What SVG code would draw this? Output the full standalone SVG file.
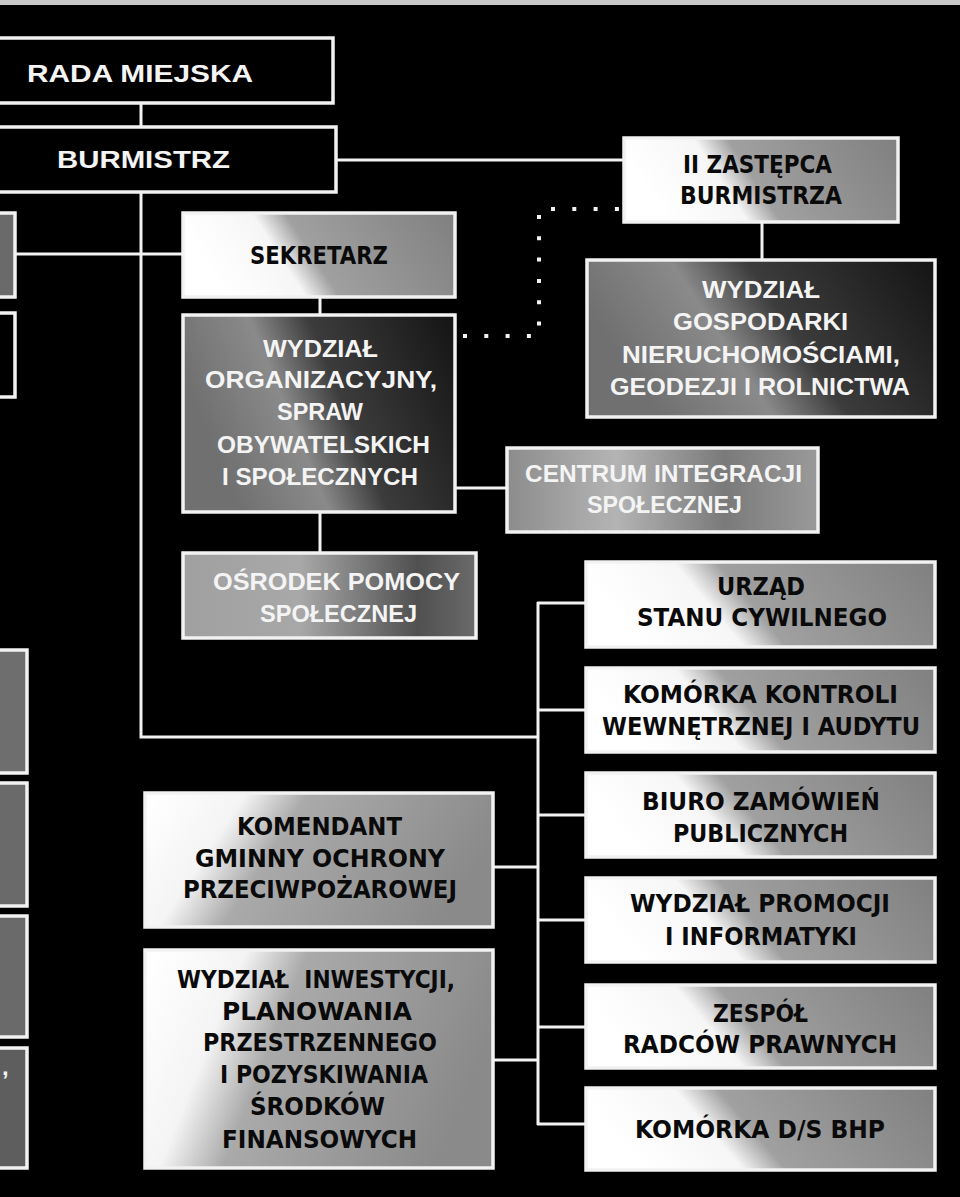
<svg xmlns="http://www.w3.org/2000/svg" width="960" height="1197" viewBox="0 0 960 1197">
<defs>
<style>
.box{stroke:#f2f2f2;stroke-width:3.5}
.ln{stroke:#f2f2f2;stroke-width:3;fill:none}
.dot{stroke:#f2f2f2;stroke-width:4;fill:none;stroke-dasharray:4 17.3}
.tw{font-family:"Liberation Sans",Arial,sans-serif;font-weight:700;fill:#f4f4f4;font-size:24px}
.tb{font-family:"DejaVu Sans","Liberation Sans",sans-serif;font-weight:700;fill:#0a0a0a;font-size:24px}
</style>
<linearGradient id="gLight" x1="0" y1="0.2" x2="1" y2="0" gradientUnits="objectBoundingBox">
<stop offset="0" stop-color="#ffffff"/>
<stop offset="0.28" stop-color="#f6f6f6"/>
<stop offset="0.4" stop-color="#a0a0a0"/>
<stop offset="1" stop-color="#808080"/>
</linearGradient>
<linearGradient id="gLightDiag" x1="0" y1="0.1" x2="1" y2="0.35" gradientUnits="objectBoundingBox">
<stop offset="0" stop-color="#ffffff"/>
<stop offset="0.25" stop-color="#f4f4f4"/>
<stop offset="0.42" stop-color="#aaaaaa"/>
<stop offset="1" stop-color="#8a8a8a"/>
</linearGradient>
<linearGradient id="gDark" x1="0" y1="0.3" x2="1" y2="0" gradientUnits="objectBoundingBox">
<stop offset="0" stop-color="#707070"/>
<stop offset="0.3" stop-color="#8a8a8a"/>
<stop offset="0.5" stop-color="#3c3c3c"/>
<stop offset="1" stop-color="#141414"/>
</linearGradient>
<linearGradient id="gMid" x1="0" y1="0" x2="1" y2="0" gradientUnits="objectBoundingBox">
<stop offset="0" stop-color="#8c8c8c"/>
<stop offset="0.35" stop-color="#b4b4b4"/>
<stop offset="0.7" stop-color="#7a7a7a"/>
<stop offset="1" stop-color="#9a9a9a"/>
</linearGradient>
<linearGradient id="gOsr" x1="0" y1="0" x2="1" y2="0" gradientUnits="objectBoundingBox">
<stop offset="0" stop-color="#a0a0a0"/>
<stop offset="0.4" stop-color="#a8a8a8"/>
<stop offset="0.8" stop-color="#505050"/>
<stop offset="1" stop-color="#6a6a6a"/>
</linearGradient>
</defs>
<rect x="0" y="0" width="960" height="1197" fill="#000"/>
<rect x="0" y="0" width="960" height="5" fill="#c8c8c8"/>

<g id="connectors">
<line class="ln" x1="141" y1="103" x2="141" y2="127"/>
<line class="ln" x1="336" y1="160" x2="624" y2="160"/>
<path class="ln" d="M141 192 V737 H538"/>
<line class="ln" x1="15" y1="254" x2="183" y2="254"/>
<line class="ln" x1="320" y1="297" x2="320" y2="315"/>
<line class="ln" x1="455" y1="488" x2="507" y2="488"/>
<line class="ln" x1="320" y1="512" x2="320" y2="553"/>
<line class="ln" x1="762" y1="222" x2="762" y2="260"/>
<line class="ln" x1="538" y1="602" x2="538" y2="1125"/>
<line class="ln" x1="537" y1="603" x2="586" y2="603"/>
<line class="ln" x1="537" y1="710" x2="586" y2="710"/>
<line class="ln" x1="537" y1="815" x2="586" y2="815"/>
<line class="ln" x1="537" y1="920" x2="586" y2="920"/>
<line class="ln" x1="537" y1="1027" x2="586" y2="1027"/>
<line class="ln" x1="537" y1="1124" x2="586" y2="1124"/>
<line class="ln" x1="493" y1="867" x2="538" y2="867"/>
<line class="ln" x1="493" y1="1060" x2="538" y2="1060"/>
<line class="dot" x1="463" y1="336" x2="532" y2="336"/>
<line class="dot" x1="539" y1="215" x2="539" y2="328"/>
<line class="dot" x1="551" y1="209" x2="622" y2="209"/>
</g>

<g id="left-box-1"><rect class="box" x="-10" y="213" width="25" height="84" fill="#6a6a6a"/></g>
<g id="left-box-2"><rect class="box" x="-10" y="313" width="25" height="84" fill="#000"/></g>
<g id="left-box-3"><rect class="box" x="-10" y="650" width="37" height="123" fill="#6e6e6e"/></g>
<g id="left-box-4"><rect class="box" x="-10" y="783" width="37" height="123" fill="#6a6a6a"/></g>
<g id="left-box-5"><rect class="box" x="-10" y="916" width="37" height="121" fill="#6a6a6a"/></g>
<g id="left-box-6"><rect class="box" x="-10" y="1048" width="37" height="120" fill="#5e5e5e"/><text class="tw" x="2" y="1075">,</text></g>

<g id="rada-miejska">
<rect class="box" x="-10" y="38" width="343" height="65" fill="#000"/>
<text class="tw" x="27" y="82" font-size="30" textLength="226" lengthAdjust="spacingAndGlyphs">RADA MIEJSKA</text>
</g>
<g id="burmistrz">
<rect class="box" x="-10" y="127" width="346" height="65" fill="#000"/>
<text class="tw" x="57" y="168" font-size="30" textLength="173" lengthAdjust="spacingAndGlyphs">BURMISTRZ</text>
</g>
<g id="sekretarz">
<rect class="box" x="183" y="213" width="272" height="84" fill="url(#gLight)"/>
<text class="tb" x="250" y="264" textLength="138" lengthAdjust="spacingAndGlyphs">SEKRETARZ</text>
</g>
<g id="ii-zastepca">
<rect class="box" x="624" y="138" width="274" height="84" fill="url(#gLight)"/>
<text class="tb" x="683" y="173" textLength="149" lengthAdjust="spacingAndGlyphs">II ZASTĘPCA</text>
<text class="tb" x="680" y="204" textLength="162" lengthAdjust="spacingAndGlyphs">BURMISTRZA</text>
</g>
<g id="wydzial-gospodarki">
<rect class="box" x="587" y="260" width="348" height="157" fill="url(#gDark)"/>
<text class="tw" x="702" y="298" textLength="118" lengthAdjust="spacingAndGlyphs">WYDZIAŁ</text>
<text class="tw" x="673" y="330" textLength="175" lengthAdjust="spacingAndGlyphs">GOSPODARKI</text>
<text class="tw" x="622" y="363" textLength="278" lengthAdjust="spacingAndGlyphs">NIERUCHOMOŚCIAMI,</text>
<text class="tw" x="610" y="395" textLength="300" lengthAdjust="spacingAndGlyphs">GEODEZJI I ROLNICTWA</text>
</g>
<g id="wydzial-organizacyjny">
<rect class="box" x="183" y="315" width="272" height="197" fill="url(#gDark)"/>
<text class="tw" x="263" y="357" textLength="115" lengthAdjust="spacingAndGlyphs">WYDZIAŁ</text>
<text class="tw" x="205" y="388" textLength="232" lengthAdjust="spacingAndGlyphs">ORGANIZACYJNY,</text>
<text class="tw" x="277" y="420" textLength="86" lengthAdjust="spacingAndGlyphs">SPRAW</text>
<text class="tw" x="217" y="453" textLength="213" lengthAdjust="spacingAndGlyphs">OBYWATELSKICH</text>
<text class="tw" x="222" y="485" textLength="196" lengthAdjust="spacingAndGlyphs">I SPOŁECZNYCH</text>
</g>
<g id="centrum-integracji">
<rect class="box" x="507" y="448" width="311" height="84" fill="url(#gMid)"/>
<text class="tw" x="525" y="482" textLength="277" lengthAdjust="spacingAndGlyphs">CENTRUM INTEGRACJI</text>
<text class="tw" x="587" y="513" textLength="155" lengthAdjust="spacingAndGlyphs">SPOŁECZNEJ</text>
</g>
<g id="osrodek-pomocy">
<rect class="box" x="183" y="553" width="293" height="85" fill="url(#gOsr)"/>
<text class="tw" x="213" y="590" textLength="247" lengthAdjust="spacingAndGlyphs">OŚRODEK POMOCY</text>
<text class="tw" x="260" y="622" textLength="157" lengthAdjust="spacingAndGlyphs">SPOŁECZNEJ</text>
</g>
<g id="urzad-stanu-cywilnego">
<rect class="box" x="586" y="562" width="349" height="85" fill="url(#gLight)"/>
<text class="tb" x="717" y="595" textLength="88" lengthAdjust="spacingAndGlyphs">URZĄD</text>
<text class="tb" x="637" y="626" textLength="250" lengthAdjust="spacingAndGlyphs">STANU CYWILNEGO</text>
</g>
<g id="komorka-kontroli">
<rect class="box" x="586" y="668" width="349" height="84" fill="url(#gLight)"/>
<text class="tb" x="623" y="703" textLength="275" lengthAdjust="spacingAndGlyphs">KOMÓRKA KONTROLI</text>
<text class="tb" x="602" y="735" textLength="318" lengthAdjust="spacingAndGlyphs">WEWNĘTRZNEJ I AUDYTU</text>
</g>
<g id="biuro-zamowien">
<rect class="box" x="586" y="773" width="349" height="84" fill="url(#gLight)"/>
<text class="tb" x="642" y="810" textLength="238" lengthAdjust="spacingAndGlyphs">BIURO ZAMÓWIEŃ</text>
<text class="tb" x="673" y="842" textLength="175" lengthAdjust="spacingAndGlyphs">PUBLICZNYCH</text>
</g>
<g id="wydzial-promocji">
<rect class="box" x="586" y="878" width="349" height="84" fill="url(#gLight)"/>
<text class="tb" x="630" y="912" textLength="260" lengthAdjust="spacingAndGlyphs">WYDZIAŁ PROMOCJI</text>
<text class="tb" x="665" y="945" textLength="192" lengthAdjust="spacingAndGlyphs">I INFORMATYKI</text>
</g>
<g id="zespol-radcow">
<rect class="box" x="586" y="985" width="349" height="83" fill="url(#gLight)"/>
<text class="tb" x="713" y="1022" textLength="95" lengthAdjust="spacingAndGlyphs">ZESPÓŁ</text>
<text class="tb" x="623" y="1053" textLength="274" lengthAdjust="spacingAndGlyphs">RADCÓW PRAWNYCH</text>
</g>
<g id="komorka-bhp">
<rect class="box" x="586" y="1088" width="349" height="82" fill="url(#gLight)"/>
<text class="tb" x="635" y="1138" textLength="250" lengthAdjust="spacingAndGlyphs">KOMÓRKA D/S BHP</text>
</g>
<g id="komendant">
<rect class="box" x="145" y="793" width="348" height="134" fill="url(#gLightDiag)"/>
<text class="tb" x="237" y="835" textLength="165" lengthAdjust="spacingAndGlyphs">KOMENDANT</text>
<text class="tb" x="195" y="867" textLength="250" lengthAdjust="spacingAndGlyphs">GMINNY OCHRONY</text>
<text class="tb" x="183" y="898" textLength="274" lengthAdjust="spacingAndGlyphs">PRZECIWPOŻAROWEJ</text>
</g>
<g id="wydzial-inwestycji">
<rect class="box" x="145" y="950" width="348" height="218" fill="url(#gLightDiag)"/>
<text class="tb" x="177" y="988" textLength="278" lengthAdjust="spacingAndGlyphs" xml:space="preserve">WYDZIAŁ  INWESTYCJI,</text>
<text class="tb" x="222" y="1020" textLength="190" lengthAdjust="spacingAndGlyphs">PLANOWANIA</text>
<text class="tb" x="203" y="1051" textLength="234" lengthAdjust="spacingAndGlyphs">PRZESTRZENNEGO</text>
<text class="tb" x="220" y="1083" textLength="208" lengthAdjust="spacingAndGlyphs">I POZYSKIWANIA</text>
<text class="tb" x="250" y="1115" textLength="135" lengthAdjust="spacingAndGlyphs">ŚRODKÓW</text>
<text class="tb" x="222" y="1148" textLength="195" lengthAdjust="spacingAndGlyphs">FINANSOWYCH</text>
</g>
</svg>
